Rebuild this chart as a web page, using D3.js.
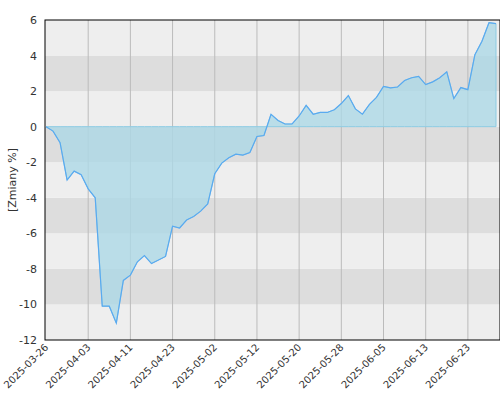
<!DOCTYPE html><html><head><script src="https://cdn.jsdelivr.net/npm/d3@7"></script>
<style>body{margin:0;background:#fff}text{font-family:"DejaVu Sans",sans-serif}</style></head><body><svg id="c" width="500" height="400"></svg>
<script>
const values=[0,-0.25,-0.9,-3.0,-2.5,-2.7,-3.5,-4.0,-10.1,-10.1,-11.05,-8.65,-8.35,-7.6,-7.25,-7.7,-7.5,-7.3,-5.6,-5.7,-5.25,-5.05,-4.75,-4.35,-2.65,-2.05,-1.75,-1.55,-1.6,-1.45,-0.55,-0.5,0.7,0.35,0.15,0.15,0.6,1.2,0.7,0.8,0.8,0.95,1.3,1.75,1.0,0.7,1.25,1.65,2.27,2.18,2.23,2.6,2.75,2.83,2.37,2.52,2.75,3.08,1.58,2.2,2.08,4.05,4.8,5.85,5.8];
const tickLabels=["2025-03-26","2025-04-03","2025-04-11","2025-04-23","2025-05-02","2025-05-12","2025-05-20","2025-05-28","2025-06-05","2025-06-13","2025-06-23"];
const yTicks=[6,4,2,0,-2,-4,-6,-8,-10,-12];
const svg=d3.select("#c");
const L=45,R=500,T=20,B=340;
const x=d3.scaleLinear().domain([0,values.length-1]).range([46,496]);
const y=d3.scaleLinear().domain([-12,6]).range([B,T]);
for(let v=-12;v<6;v+=2){svg.append("rect").attr("x",L).attr("width",R-L).attr("y",y(v+2)).attr("height",y(v)-y(v+2)).attr("fill",((v/2)%2===0)?"#eeeeee":"#dddddd");}
tickLabels.forEach((t,k)=>{const xx=x(k*6);if(k>0)svg.append("line").attr("x1",xx).attr("x2",xx).attr("y1",T).attr("y2",B).attr("stroke","#bbb");
svg.append("text").attr("transform",`translate(${xx+3},${B+8}) rotate(-45)`).attr("text-anchor","end").attr("font-size",10).attr("fill","#333").text(t);});
svg.append("path").datum(values).attr("d",d3.area().x((d,i)=>x(i)).y0(y(0)).y1(d=>y(d))).attr("fill","#add8e6").attr("fill-opacity",0.8).attr("stroke","#8ccbe3");
svg.append("path").datum(values).attr("d",d3.line().x((d,i)=>x(i)).y(d=>y(d))).attr("fill","none").attr("stroke","#5aaaf0").attr("stroke-width",1.2);
svg.append("rect").attr("x",L).attr("y",T).attr("width",R-L).attr("height",B-T).attr("fill","none").attr("stroke","#000");
yTicks.forEach(v=>svg.append("text").attr("x",37).attr("y",y(v)+4).attr("text-anchor","end").attr("font-size",11).attr("fill","#333").text(v));
svg.append("text").attr("transform",`translate(16,${(T+B)/2}) rotate(-90)`).attr("text-anchor","middle").attr("font-size",11).attr("fill","#333").text("[Zmiany %]");
</script></body></html>
